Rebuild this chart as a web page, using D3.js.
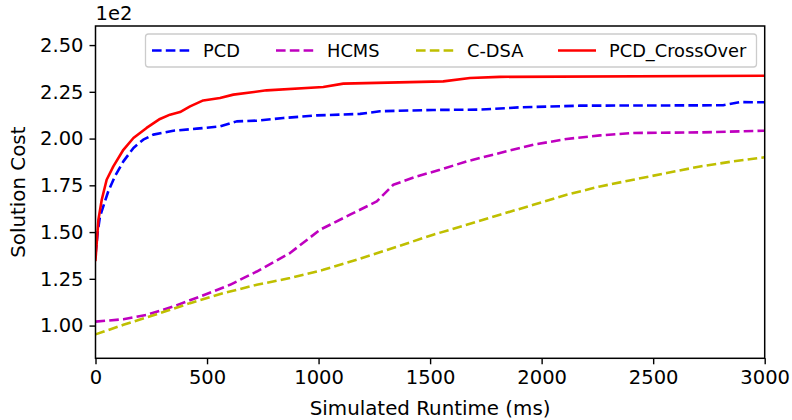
<!DOCTYPE html>
<html>
<head>
<meta charset="utf-8">
<script src="https://cdn.jsdelivr.net/npm/d3@7"></script>
<style>
  html, body { margin: 0; padding: 0; background: #fff; }
  svg { display: block; font-family: "DejaVu Sans", sans-serif; }
</style>
</head>
<body>
<svg id="chart" width="792" height="420"></svg>
<script>
// ---- Data (cost values, axis shows them in units of 1e2) ----
const seriesNames = ["PCD", "HCMS", "C-DSA", "PCD_CrossOver"];

const pcdX = [0, 10, 20, 57, 87, 125, 170, 214, 259, 349, 454, 558, 633, 723, 842, 992, 1186, 1275, 1514, 1724, 1903, 2172, 2814, 2889, 3000];
const pcdY = [138, 150, 158.3, 171.7, 179.8, 187.8, 195, 199.4, 202.1, 204.2, 205.3, 206.5, 209.2, 209.6, 211, 212.4, 213.2, 214.6, 215.3, 215.5, 216.7, 217.6, 217.8, 219.5, 219.4];

const hcmsX = [0, 125, 229, 349, 468, 603, 723, 872, 1006, 1141, 1261, 1335, 1440, 1544, 1664, 1813, 1963, 2112, 2262, 2411, 2710, 3000];
const hcmsY = [102.1, 103.4, 105.7, 110.2, 115.5, 121.8, 128.9, 138.8, 151.2, 159.3, 166.4, 175.3, 179.8, 183.3, 187.8, 192.3, 196.7, 199.8, 201.7, 203, 203.3, 204.2];

const cdsaX = [0, 125, 274, 424, 573, 723, 872, 1021, 1171, 1320, 1514, 1664, 1813, 1963, 2112, 2262, 2411, 2561, 2710, 2859, 3000];
const cdsaY = [95.3, 100.4, 106.1, 112, 117.3, 121.8, 125.4, 129.8, 135.2, 140.9, 148.6, 153.9, 159.3, 164.6, 170, 174.4, 178, 181.6, 185.1, 187.8, 190];

const crossX = [0, 13, 28, 50, 80, 125, 170, 229, 289, 334, 379, 424, 483, 558, 618, 767, 1021, 1111, 1559, 1679, 1813, 3000];
const crossY = [135.2, 156.6, 167.3, 178, 185.1, 194, 200.3, 205.7, 210.5, 212.8, 214.2, 217.2, 220.4, 221.7, 223.5, 225.8, 227.6, 229.4, 230.6, 232.4, 233.0, 233.6];

const xTicks = [0, 500, 1000, 1500, 2000, 2500, 3000];
const yTicks = [100, 125, 150, 175, 200, 225, 250];
const xDomain = [0, 3000];
const yDomain = [82.5, 260.2];

// ---- Layout ----
const margin = { left: 95.5, right: 792 - 764.7, top: 26, bottom: 420 - 358.3 };
const W = 792, H = 420;
const svg = d3.select("#chart");

// font sizes fitted to reference text widths
function fitSize(str, target) {
  const t = svg.append("text").attr("font-size", 100).attr("font-family", "DejaVu Sans").text(str);
  const w = t.node().getComputedTextLength();
  t.remove();
  return 100 * target / w;
}
const tickFont = fitSize("2000", 49.7);
const labelFont = fitSize("Simulated Runtime (ms)", 241);
const legendFont = fitSize("PCD_CrossOver", 137.4);

const x = d3.scaleLinear().domain(xDomain).range([margin.left, W - margin.right]);
const y = d3.scaleLinear().domain(yDomain).range([H - margin.bottom, margin.top]);

const colors = { "PCD": "#0000ff", "HCMS": "#bf00bf", "C-DSA": "#bfbf00", "PCD_CrossOver": "#ff0000" };
const dashed = { "PCD": true, "HCMS": true, "C-DSA": true, "PCD_CrossOver": false };
const lw = 2.6;
const dashArr = `${(3.7 * lw).toFixed(1)},${(1.6 * lw).toFixed(1)}`;

const series = [
  { name: "PCD", xs: pcdX, ys: pcdY },
  { name: "HCMS", xs: hcmsX, ys: hcmsY },
  { name: "C-DSA", xs: cdsaX, ys: cdsaY },
  { name: "PCD_CrossOver", xs: crossX, ys: crossY }
];

svg.append("defs").append("clipPath").attr("id", "clip")
  .append("rect")
  .attr("x", margin.left).attr("y", margin.top)
  .attr("width", W - margin.left - margin.right)
  .attr("height", H - margin.top - margin.bottom);

const line = d3.line().x(d => x(d[0])).y(d => y(d[1])).curve(d3.curveLinear);

const plot = svg.append("g").attr("clip-path", "url(#clip)");
series.forEach(s => {
  const pts = s.xs.map((v, i) => [v, s.ys[i]]);
  plot.append("path")
    .datum(pts)
    .attr("d", line)
    .attr("fill", "none")
    .attr("stroke", colors[s.name])
    .attr("stroke-width", lw)
    .attr("stroke-linejoin", "round")
    .attr("stroke-linecap", dashed[s.name] ? "butt" : "square")
    .attr("stroke-dasharray", dashed[s.name] ? dashArr : null);
});

// ---- Axes ----
const xAxis = d3.axisBottom(x).tickValues(xTicks).tickFormat(d3.format("d")).tickSizeOuter(0).tickSize(6).tickPadding(6);
const yAxis = d3.axisLeft(y).tickValues(yTicks).tickFormat(d => (d / 100).toFixed(2)).tickSizeOuter(0).tickSize(6).tickPadding(6);

const gx = svg.append("g").attr("transform", `translate(0,${H - margin.bottom})`).call(xAxis);
const gy = svg.append("g").attr("transform", `translate(${margin.left},0)`).call(yAxis);
[gx, gy].forEach(g => {
  g.select(".domain").remove();
  g.selectAll(".tick line").attr("stroke", "#000").attr("stroke-width", 1.4);
  g.selectAll(".tick text").attr("fill", "#000").attr("font-size", tickFont)
    .attr("font-family", "DejaVu Sans");
});

// spines
svg.append("rect")
  .attr("x", margin.left).attr("y", margin.top)
  .attr("width", W - margin.left - margin.right)
  .attr("height", H - margin.top - margin.bottom)
  .attr("fill", "none").attr("stroke", "#000").attr("stroke-width", 1.5);

// offset text
svg.append("text").attr("x", margin.left).attr("y", 20)
  .attr("font-size", tickFont).text("1e2");

// axis labels
svg.append("text")
  .attr("x", (margin.left + W - margin.right) / 2).attr("y", 414.5)
  .attr("text-anchor", "middle").attr("font-size", labelFont)
  .text("Simulated Runtime (ms)");
svg.append("text")
  .attr("transform", `translate(25,${(margin.top + H - margin.bottom) / 2}) rotate(-90)`)
  .attr("text-anchor", "middle").attr("font-size", labelFont)
  .text("Solution Cost");

// ---- Legend ----
const legend = svg.append("g");
legend.append("rect")
  .attr("x", 145.5).attr("y", 34).attr("width", 611).attr("height", 33)
  .attr("rx", 3).attr("ry", 3)
  .attr("fill", "#fff").attr("fill-opacity", 0.8)
  .attr("stroke", "#cccccc").attr("stroke-width", 1.3);
const legendX = [152, 276, 416, 558];
seriesNames.forEach((n, i) => {
  const lx = legendX[i];
  legend.append("line")
    .attr("x1", lx).attr("x2", lx + 38).attr("y1", 50.5).attr("y2", 50.5)
    .attr("stroke", colors[n]).attr("stroke-width", lw)
    .attr("stroke-dasharray", dashed[n] ? dashArr : null);
  legend.append("text")
    .attr("x", lx + 51).attr("y", 57)
    .attr("font-size", legendFont).text(n);
});
</script>
</body>
</html>
